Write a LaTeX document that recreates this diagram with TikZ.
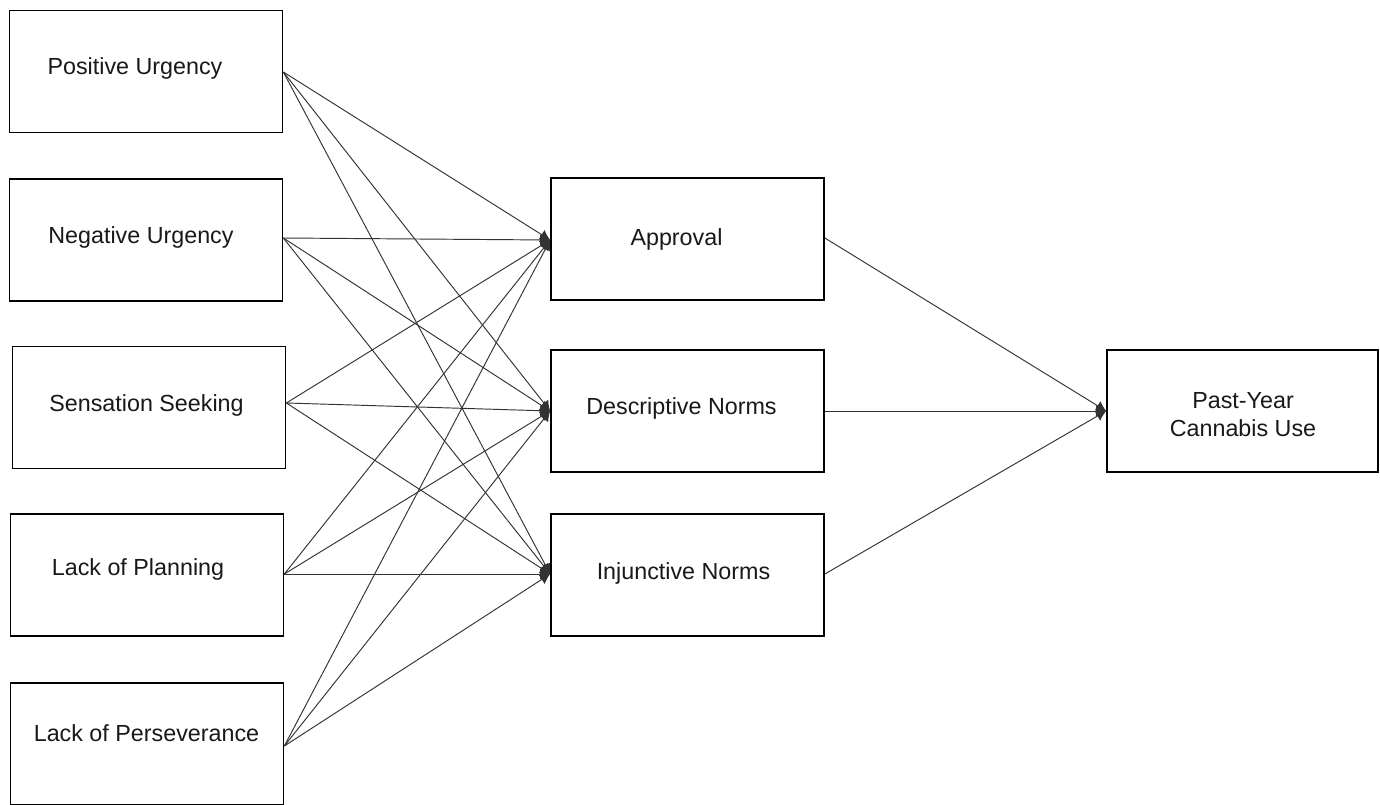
\documentclass[tikz,border=0pt]{standalone}
\usepackage{fontspec}
\setmainfont{Liberation Sans}
\usetikzlibrary{arrows.meta}
\begin{document}
\begin{tikzpicture}[x=1pt,y=-1pt,
  box/.style={draw=black, line width=1.7pt, minimum width=273pt, minimum height=122pt, inner sep=0pt},
  lbl/.style={anchor=base, inner sep=0pt, font=\fontsize{23.3}{28}\selectfont, text=black!90},
  conn/.style={line width=0.95pt, draw=black!80, -{Latex[length=10pt,width=11pt]}}]
\useasboundingbox (0,0) rectangle (1380,805);
\fill[white] (0,0) rectangle (1380,805);
\node[box] (pu) at (146,71.5) {};
\node[box] (nu) at (146,240) {};
\node[box] (ss) at (149,407.5) {};
\node[box] (lp) at (147,575) {};
\node[box] (lpe) at (147,744) {};
\node[box] (ap) at (687.5,239) {};
\node[box] (dn) at (687.5,411) {};
\node[box] (in) at (687.5,575) {};
\node[box, minimum width=271pt] (py) at (1242.5,411) {};
\node[lbl] (put) at (135,75) {Positive Urgency};
\node[lbl] (nut) at (141,243) {Negative Urgency};
\node[lbl] (sst) at (146.5,411) {Sensation Seeking};
\node[lbl] (lpt) at (138,575) {Lack of Planning};
\node[lbl] (lpet) at (146.5,741) {Lack of Perseverance};
\node[lbl] (apt) at (676.5,245) {Approval};
\node[lbl] (dnt) at (681.5,414) {Descriptive Norms};
\node[lbl] (int) at (683.5,579) {Injunctive Norms};
\node[lbl] (pyt1) at (1243,408) {Past-Year};
\node[lbl] (pyt2) at (1243,436) {Cannabis Use};
\foreach \s/\sy in {pu/72,nu/238,ss/403,lp/574,lpe/746}{
  \coordinate (\s o) at (\s.east |- 0,\sy);
}
\foreach \s in {pu,nu,ss,lp,lpe}{
  \foreach \t/\ty in {ap/240,dn/411,in/574}{
    \draw[conn] (\s o) -- (\t.west |- 0,\ty);
  }
}
\coordinate (apo) at (ap.east |- 0,238);
\coordinate (dno) at (dn.east |- 0,411);
\coordinate (ino) at (in.east |- 0,574);
\coordinate (pyi) at (py.west |- 0,411);
\draw[conn] (apo) -- (pyi);
\draw[conn] (dno) -- (pyi);
\draw[conn] (ino) -- (pyi);
\end{tikzpicture}
\end{document}
